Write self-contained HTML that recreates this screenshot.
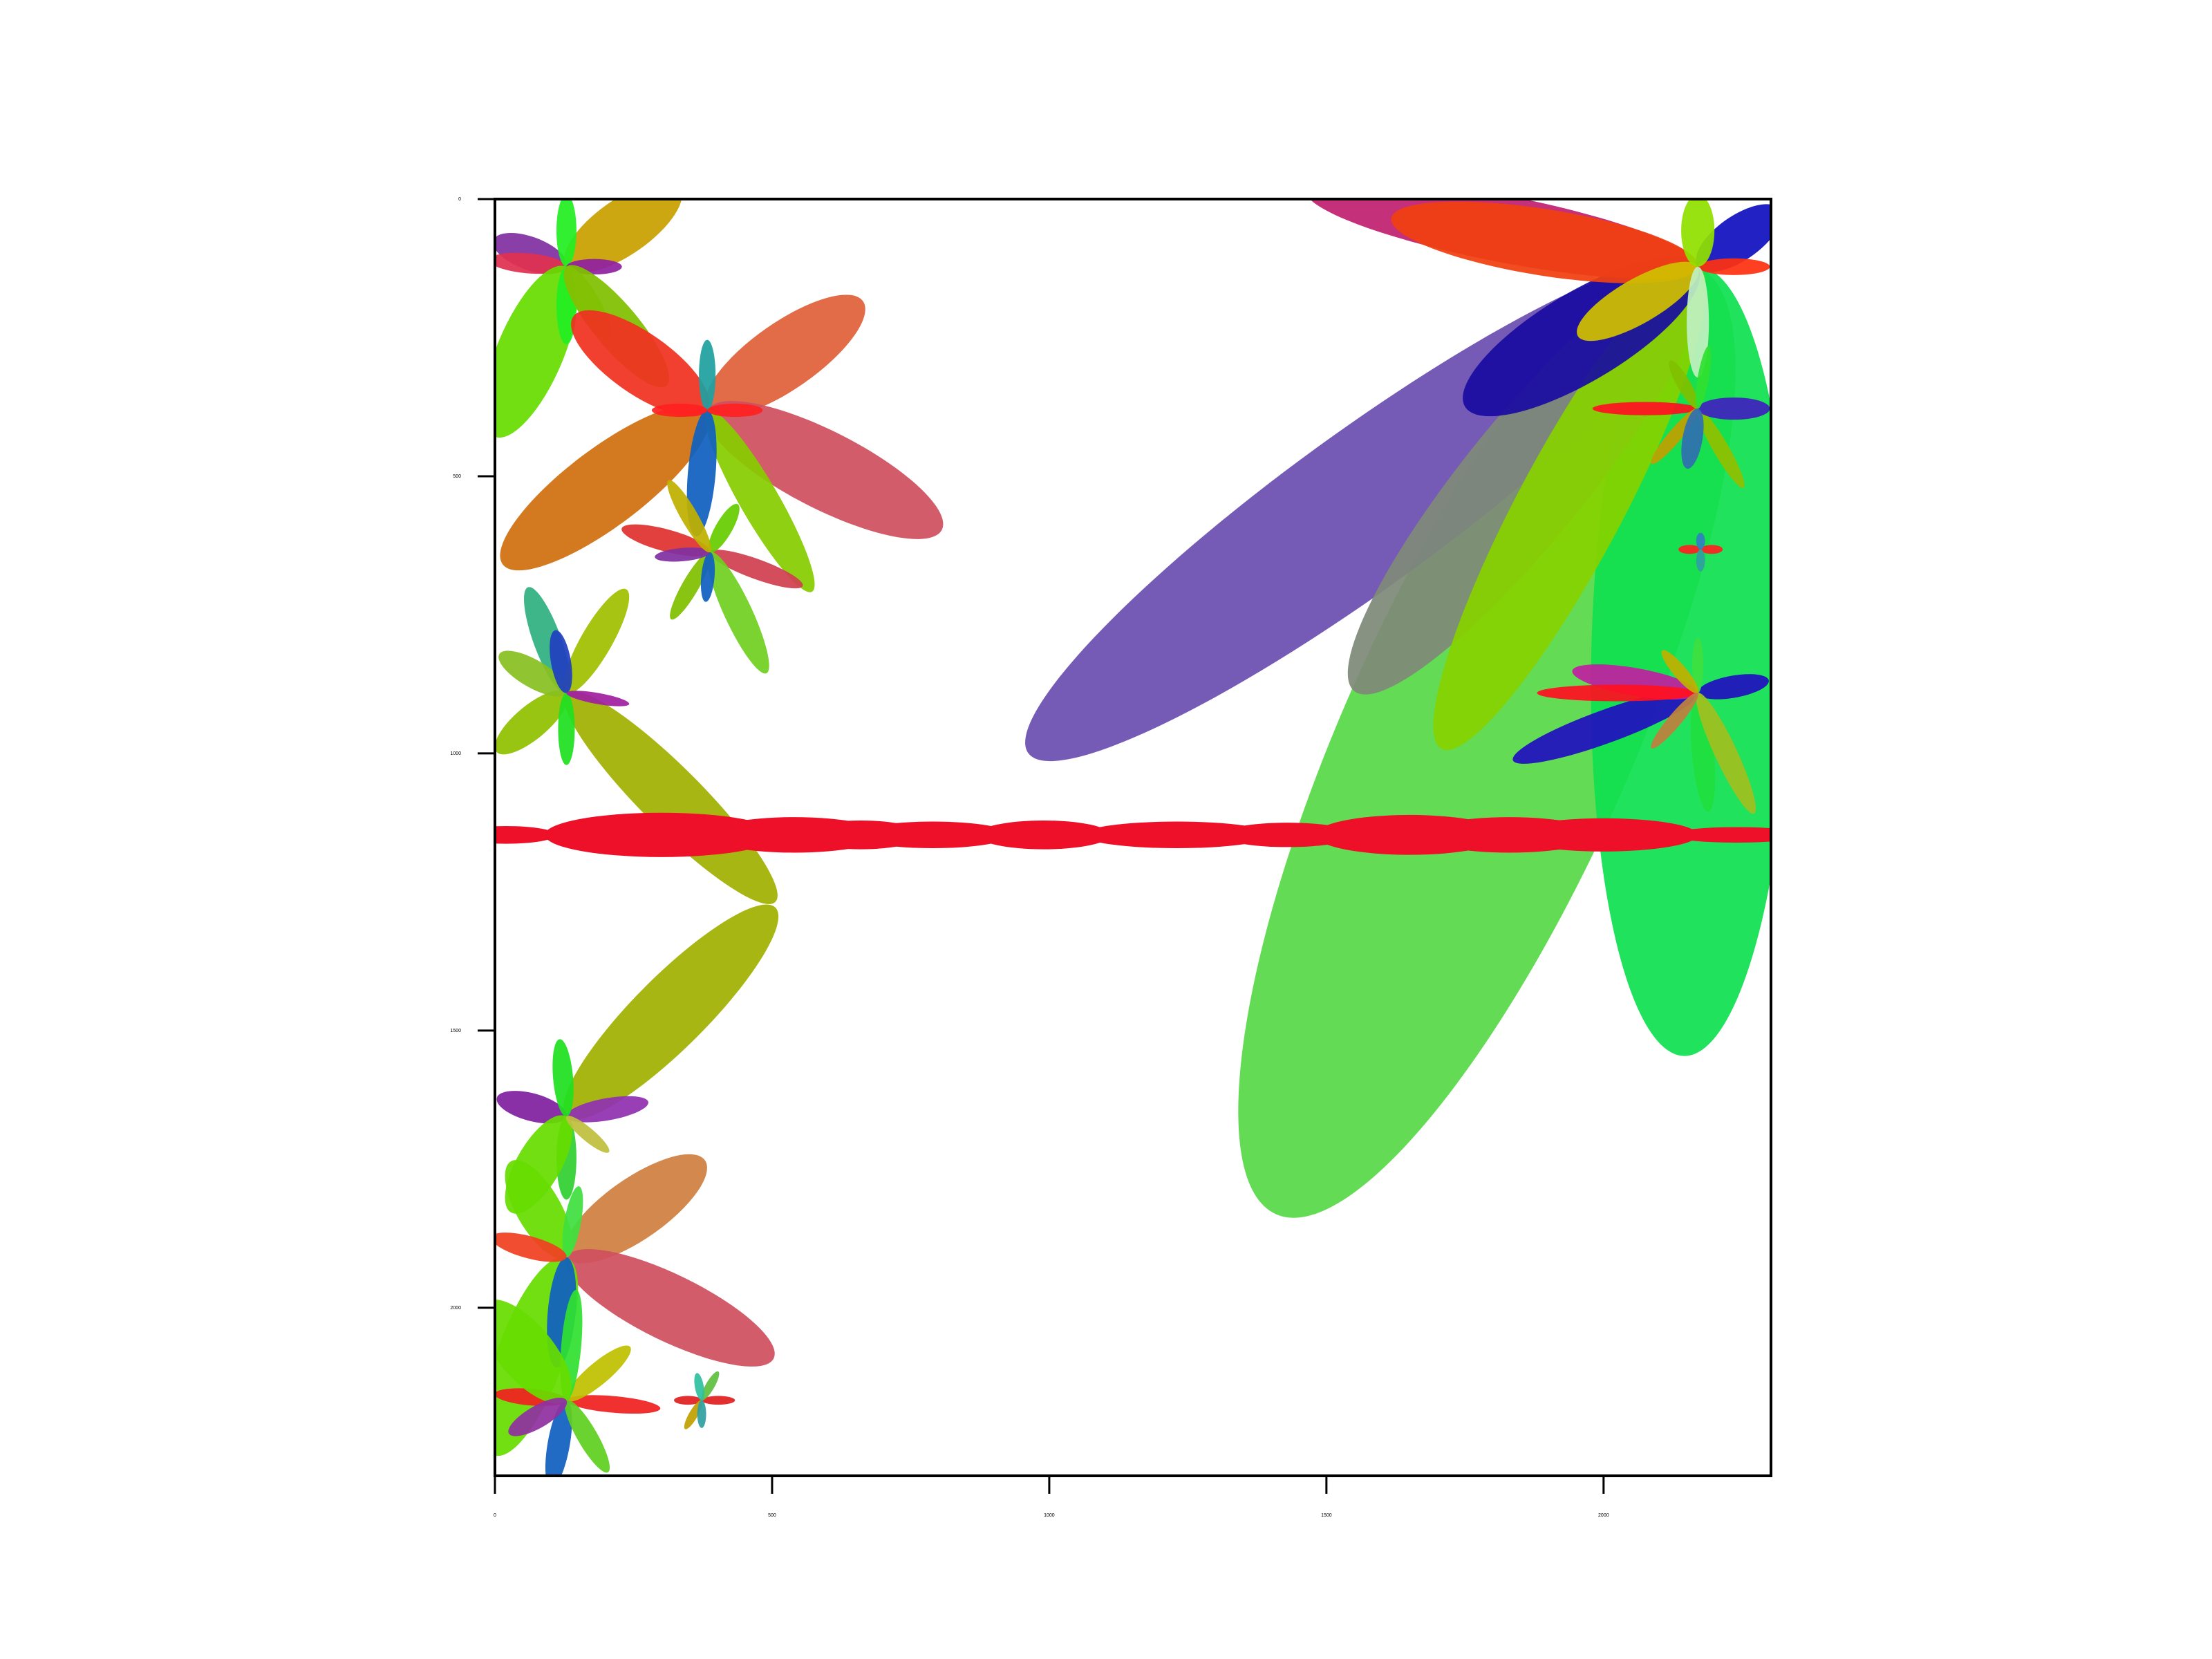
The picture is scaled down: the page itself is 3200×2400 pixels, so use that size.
<!DOCTYPE html>
<html><head><meta charset="utf-8"><style>
html,body{margin:0;padding:0;background:#fff;}
svg{display:block;}
text{font-family:"Liberation Sans",sans-serif;}
</style></head><body>
<svg id="chart" width="3200" height="2400" viewBox="0 0 3200 2400" xmlns="http://www.w3.org/2000/svg">
<defs><clipPath id="clip"><rect x="716" y="288" width="1846" height="1847"/></clipPath></defs>
<rect width="3200" height="2400" fill="#fff"/>
<g id="marks" clip-path="url(#clip)"></g>
<g id="axes"></g>
</svg>
<script>
// glyph centers (data units)
const glyphX = [129, 383, 388, 129, 2170, 2170, 2175, 2170, 129, 129, 129, 373];
const glyphY = [122, 381, 637, 891, 122, 378, 632, 891, 1655, 1909, 2167, 2167];
// big lobes: [glyph, angle, length, halfwidth, color]
const bigLobes = [
 [4,114,1871,260,'#58d848'],
 [4,91,1424,180,'#10e050'],
 [4,144,1493,140,'#6a4fb0'],
 [4,129,985,110,'#7f8a78'],
 [4,118,985,95,'#86d200'],
 [4,149,490,80,'#1a0ca0'],
 [4,191,720,60,'#c02070'],
 [4,189,560,60,'#f04010']
];
// petals: [glyph, angle, length, halfwidth, color]
const petals = [
 [0,200,140,30,'#8030a0'],[0,185,140,18,'#e03050'],[0,113,333,60,'#66dd00'],[0,-35,250,50,'#c8a000'],
 [0,90,140,18,'#22ee22'],[0,-90,130,18,'#22ee22'],[0,0,100,14,'#9020a0'],[0,60,150,22,'#9acd32'],[0,50,280,40,'#80c000'],
 [1,-35,343,60,'#e0603a'],[1,27,475,70,'#d05060'],[1,143,462,70,'#d07010'],[1,-145,295,55,'#f03020'],
 [1,60,378,35,'#88cc00'],[1,-90,127,15,'#20a0a0'],[1,95,228,25,'#1060c0'],[1,0,100,12,'#ff2020'],[1,180,100,12,'#ff2020'],
 [2,-165,165,20,'#e03030'],[2,20,178,18,'#d04050'],[2,-60,100,15,'#66cc00'],[2,65,241,25,'#70d020'],
 [2,120,140,15,'#80c000'],[2,95,90,12,'#1060c0'],[2,175,100,12,'#8030a0'],[2,-120,150,15,'#c0b000'],
 [3,-110,203,25,'#30b080'],[3,-60,216,28,'#a0c000'],[3,140,165,30,'#90c000'],[3,45,533,55,'#a0b000'],
 [3,-150,140,25,'#88c020'],[3,90,130,15,'#20e020'],[3,-100,115,18,'#2040c0'],[3,10,115,10,'#a020a0'],
 [4,-35,180,40,'#1010c0'],[4,0,130,15,'#ff3010'],[4,150,250,40,'#d0c000'],[4,-90,130,30,'#90e000'],[4,90,200,20,'#c0f0c0'],
 [5,180,190,12,'#ff1020'],[5,-120,100,12,'#80c000'],[5,60,165,14,'#90c000'],[5,0,130,20,'#4020c0'],[5,130,130,12,'#c0a000'],[5,-80,115,10,'#30e030'],[5,100,110,18,'#3070b0'],
 [6,180,40,8,'#ff2020'],[6,0,40,8,'#ff2020'],[6,90,40,8,'#30a0a0'],[6,-90,30,8,'#3080c0'],
 [7,160,355,30,'#2010c0'],[7,190,230,25,'#c020a0'],[7,180,290,15,'#ff1020'],[7,-10,130,20,'#2010c0'],
 [7,-90,100,10,'#40e040'],[7,85,215,20,'#20e040'],[7,65,240,20,'#a0c020'],[7,-130,100,12,'#c0b000'],[7,130,130,12,'#c08040'],
 [8,-45,533,65,'#a0b000'],[8,195,130,25,'#8020a0'],[8,-10,150,20,'#9030b0'],[8,-95,140,18,'#20e020'],
 [8,90,150,18,'#30d030'],[8,120,200,40,'#66dd00'],[8,40,100,12,'#c0c040'],
 [9,-35,305,55,'#d08040'],[9,26,416,60,'#d05060'],[9,110,380,60,'#66dd00'],[9,-120,200,40,'#66dd00'],
 [9,95,200,25,'#1060c0'],[9,-80,130,15,'#40e040'],[9,-165,140,20,'#f04020'],
 [10,185,130,15,'#f02020'],[10,5,170,15,'#f02020'],[10,-40,150,20,'#c0c000'],[10,-85,200,18,'#30e030'],
 [10,100,160,20,'#1060c0'],[10,60,150,18,'#60d020'],[10,-130,230,50,'#66dd00'],[10,150,120,20,'#9030a0'],
 [11,0,60,8,'#e02020'],[11,180,50,8,'#e02020'],[11,-60,60,8,'#60c040'],[11,120,60,8,'#c0a000'],[11,90,50,8,'#30a0a0'],[11,-100,50,8,'#30c0a0']
];
// red horizontal strip lobes: centers (x units), half-lengths, half-heights
const stripX = [20, 135, 300, 540, 660, 790, 990, 1230, 1430, 1650, 1830, 2000, 2240];
const stripLen = [90, 15, 210, 160, 110, 140, 120, 170, 120, 170, 160, 170, 120];
const stripH = [16, 6, 40, 32, 26, 24, 26, 24, 22, 36, 32, 30, 14];
const stripY = 1147;
const xTicks = [0, 500, 1000, 1500, 2000];
const yTicks = [0, 500, 1000, 1500, 2000];

const S = 1846/2302;
const X = u => 716 + u*S;
const Y = u => 288 + u*S;
const NS = 'http://www.w3.org/2000/svg';
const marks = document.getElementById('marks');
const axes = document.getElementById('axes');

function lobe(g, a, L, w, c, name){
  const cx = glyphX[g], cy = glyphY[g], r = a*Math.PI/180;
  const mx = X(cx + Math.cos(r)*L/2), my = Y(cy + Math.sin(r)*L/2);
  const e = document.createElementNS(NS,'ellipse');
  e.setAttribute('cx', mx);
  e.setAttribute('cy', my);
  e.setAttribute('rx', L/2*S);
  e.setAttribute('ry', w*S);
  e.setAttribute('fill', c);
  e.setAttribute('fill-opacity', '0.93');
  e.setAttribute('transform', 'rotate(' + a + ' ' + mx + ' ' + my + ')');
  
  
  marks.appendChild(e);
}
bigLobes.forEach(p => lobe(p[0],p[1],p[2],p[3],p[4],'big-lobe'));
petals.forEach(p => lobe(p[0],p[1],p[2],p[3],p[4],'glyph-petal'));
stripX.forEach((x,i) => {
  const e = document.createElementNS(NS,'ellipse');
  e.setAttribute('cx', X(x));
  e.setAttribute('cy', Y(stripY));
  e.setAttribute('rx', stripLen[i]*S);
  e.setAttribute('ry', stripH[i]*S);
  e.setAttribute('fill', i===1 ? '#6040a0' : '#ee1028');
  
  
  marks.appendChild(e);
});

const frame = document.createElementNS(NS,'rect');
frame.setAttribute('x',716);frame.setAttribute('y',288);frame.setAttribute('width',1846);frame.setAttribute('height',1847);
frame.setAttribute('fill','none');frame.setAttribute('stroke','#000');frame.setAttribute('stroke-width','4');


axes.appendChild(frame);
xTicks.forEach(t => {
  const l = document.createElementNS(NS,'line');
  l.setAttribute('x1',X(t));l.setAttribute('x2',X(t));l.setAttribute('y1',2135);l.setAttribute('y2',2161);
  l.setAttribute('stroke','#000');l.setAttribute('stroke-width','3');
  
  
  axes.appendChild(l);
  const tx = document.createElementNS(NS,'text');
  tx.setAttribute('x',X(t));tx.setAttribute('y',2194);tx.setAttribute('font-size','7');tx.setAttribute('text-anchor','middle');
  tx.textContent = t;
  
  
  axes.appendChild(tx);
});
yTicks.forEach(t => {
  const l = document.createElementNS(NS,'line');
  l.setAttribute('x1',691);l.setAttribute('x2',716);l.setAttribute('y1',Y(t));l.setAttribute('y2',Y(t));
  l.setAttribute('stroke','#000');l.setAttribute('stroke-width','3');
  
  
  axes.appendChild(l);
  const tx = document.createElementNS(NS,'text');
  tx.setAttribute('x',667);tx.setAttribute('y',Y(t)+2);tx.setAttribute('font-size','7');tx.setAttribute('text-anchor','end');
  tx.textContent = t;
  
  
  axes.appendChild(tx);
});
</script>
</body></html>
